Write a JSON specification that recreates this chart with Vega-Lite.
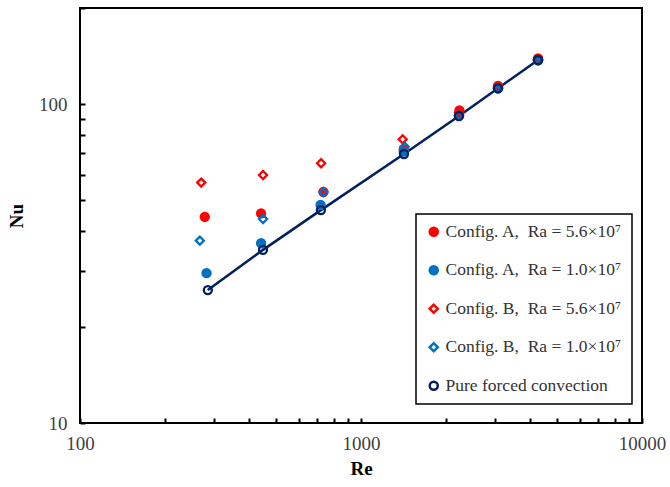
{
  "$schema": "https://vega.github.io/schema/vega-lite/v6.json",
  "width": 562,
  "height": 415,
  "autosize": {"type": "none"},
  "padding": {"left": 80, "top": 8, "right": 28, "bottom": 64},
  "background": "white",
  "config": {
    "view": {"stroke": "black", "strokeWidth": 2},
    "font": "Liberation Serif",
    "axis": {
      "grid": false,
      "domain": false,
      "tickColor": "black",
      "tickWidth": 2,
      "tickSize": -5,
      "labelFont": "Liberation Serif",
      "labelFontSize": 19,
      "labelColor": "#404040",
      "titleFont": "Liberation Serif",
      "titleFontSize": 19,
      "titleFontWeight": "bold",
      "titleColor": "black"
    },
    "legend": {
      "orient": "none",
      "legendX": 336,
      "legendY": 206,
      "strokeColor": "black",
      "strokeWidth": 1.5,
      "fillColor": "white",
      "padding": 9,
      "labelFont": "Liberation Serif",
      "labelFontSize": 17.5,
      "labelColor": "#333333",
      "symbolStrokeWidth": 2.5,
      "rowPadding": 19.5,
      "labelOffset": 3,
      "labelLimit": 300
    }
  },
  "data": {
    "values": [
      {"series": "Config. A,\u00a0 Ra = 5.6×10⁷", "Re": 278, "Nu": 44.3},
      {"series": "Config. A,\u00a0 Ra = 5.6×10⁷", "Re": 441, "Nu": 45.4},
      {"series": "Config. A,\u00a0 Ra = 5.6×10⁷", "Re": 735, "Nu": 53},
      {"series": "Config. A,\u00a0 Ra = 5.6×10⁷", "Re": 1420, "Nu": 72},
      {"series": "Config. A,\u00a0 Ra = 5.6×10⁷", "Re": 2240, "Nu": 95.5},
      {"series": "Config. A,\u00a0 Ra = 5.6×10⁷", "Re": 3073, "Nu": 114},
      {"series": "Config. A,\u00a0 Ra = 5.6×10⁷", "Re": 4266, "Nu": 139},
      {"series": "Config. A,\u00a0 Ra = 1.0×10⁷", "Re": 282, "Nu": 29.5},
      {"series": "Config. A,\u00a0 Ra = 1.0×10⁷", "Re": 441, "Nu": 36.6},
      {"series": "Config. A,\u00a0 Ra = 1.0×10⁷", "Re": 718, "Nu": 48.3},
      {"series": "Config. A,\u00a0 Ra = 1.0×10⁷", "Re": 1420, "Nu": 71},
      {"series": "Config. A,\u00a0 Ra = 1.0×10⁷", "Re": 2232, "Nu": 92},
      {"series": "Config. A,\u00a0 Ra = 1.0×10⁷", "Re": 3073, "Nu": 112},
      {"series": "Config. A,\u00a0 Ra = 1.0×10⁷", "Re": 4266, "Nu": 137},
      {"series": "Config. B,\u00a0 Ra = 5.6×10⁷", "Re": 270, "Nu": 56.7},
      {"series": "Config. B,\u00a0 Ra = 5.6×10⁷", "Re": 448, "Nu": 59.9},
      {"series": "Config. B,\u00a0 Ra = 5.6×10⁷", "Re": 721, "Nu": 65.2},
      {"series": "Config. B,\u00a0 Ra = 5.6×10⁷", "Re": 1407, "Nu": 77.5},
      {"series": "Config. B,\u00a0 Ra = 5.6×10⁷", "Re": 2232, "Nu": 94},
      {"series": "Config. B,\u00a0 Ra = 5.6×10⁷", "Re": 3073, "Nu": 113},
      {"series": "Config. B,\u00a0 Ra = 5.6×10⁷", "Re": 4266, "Nu": 138},
      {"series": "Config. B,\u00a0 Ra = 1.0×10⁷", "Re": 267, "Nu": 37.3},
      {"series": "Config. B,\u00a0 Ra = 1.0×10⁷", "Re": 448, "Nu": 43.6},
      {"series": "Config. B,\u00a0 Ra = 1.0×10⁷", "Re": 735, "Nu": 53},
      {"series": "Config. B,\u00a0 Ra = 1.0×10⁷", "Re": 1430, "Nu": 73.5},
      {"series": "Config. B,\u00a0 Ra = 1.0×10⁷", "Re": 2232, "Nu": 92},
      {"series": "Config. B,\u00a0 Ra = 1.0×10⁷", "Re": 3073, "Nu": 112},
      {"series": "Config. B,\u00a0 Ra = 1.0×10⁷", "Re": 4266, "Nu": 137},
      {"series": "Pure forced convection", "Re": 285, "Nu": 26.1},
      {"series": "Pure forced convection", "Re": 448, "Nu": 34.9},
      {"series": "Pure forced convection", "Re": 720, "Nu": 46.5},
      {"series": "Pure forced convection", "Re": 1422, "Nu": 69.7},
      {"series": "Pure forced convection", "Re": 2232, "Nu": 91.7},
      {"series": "Pure forced convection", "Re": 3073, "Nu": 112},
      {"series": "Pure forced convection", "Re": 4266, "Nu": 137.4}
    ]
  },
  "encoding": {
    "x": {
      "field": "Re", "type": "quantitative", "title": "Re",
      "scale": {"type": "log", "domain": [100, 10000], "nice": false},
      "axis": {
        "values": [100, 200, 300, 400, 500, 600, 700, 800, 900, 1000, 2000, 3000, 4000, 5000, 6000, 7000, 8000, 9000, 10000],
        "labelExpr": "(datum.value == 100 || datum.value == 1000 || datum.value == 10000) ? datum.value : ''",
        "labelPadding": 16,
        "titlePadding": 6,
        "labelFlush": false
      }
    },
    "y": {
      "field": "Nu", "type": "quantitative", "title": "Nu",
      "scale": {"type": "log", "domain": [10, 200], "nice": false},
      "axis": {
        "values": [10, 20, 30, 40, 50, 60, 70, 80, 90, 100, 200],
        "labelExpr": "(datum.value == 10 || datum.value == 100) ? datum.value : ''",
        "labelPadding": 18,
        "titlePadding": 12,
        "labelFlush": false
      }
    }
  },
  "layer": [
    {
      "transform": [{"filter": "datum.series == 'Pure forced convection'"}],
      "mark": {"type": "line", "color": "#002060", "strokeWidth": 2.5}
    },
    {
      "mark": {"type": "point", "strokeWidth": 2.3, "opacity": 1},
      "encoding": {
        "shape": {
          "field": "series", "type": "nominal", "title": null,
          "scale": {
            "domain": ["Config. A,\u00a0 Ra = 5.6×10⁷", "Config. A,\u00a0 Ra = 1.0×10⁷", "Config. B,\u00a0 Ra = 5.6×10⁷", "Config. B,\u00a0 Ra = 1.0×10⁷", "Pure forced convection"],
            "range": ["circle", "circle", "diamond", "diamond", "circle"]
          }
        },
        "fill": {
          "field": "series", "type": "nominal", "title": null,
          "scale": {
            "domain": ["Config. A,\u00a0 Ra = 5.6×10⁷", "Config. A,\u00a0 Ra = 1.0×10⁷", "Config. B,\u00a0 Ra = 5.6×10⁷", "Config. B,\u00a0 Ra = 1.0×10⁷", "Pure forced convection"],
            "range": ["#ff0000", "#0070c0", "transparent", "transparent", "transparent"]
          }
        },
        "stroke": {
          "field": "series", "type": "nominal", "title": null,
          "scale": {
            "domain": ["Config. A,\u00a0 Ra = 5.6×10⁷", "Config. A,\u00a0 Ra = 1.0×10⁷", "Config. B,\u00a0 Ra = 5.6×10⁷", "Config. B,\u00a0 Ra = 1.0×10⁷", "Pure forced convection"],
            "range": ["#ff0000", "#0070c0", "#ff0000", "#0070c0", "#002060"]
          }
        },
        "size": {
          "field": "series", "type": "nominal", "title": null,
          "scale": {
            "domain": ["Config. A,\u00a0 Ra = 5.6×10⁷", "Config. A,\u00a0 Ra = 1.0×10⁷", "Config. B,\u00a0 Ra = 5.6×10⁷", "Config. B,\u00a0 Ra = 1.0×10⁷", "Pure forced convection"],
            "range": [65, 65, 130, 130, 140]
          }
        }
      }
    }
  ]
}
